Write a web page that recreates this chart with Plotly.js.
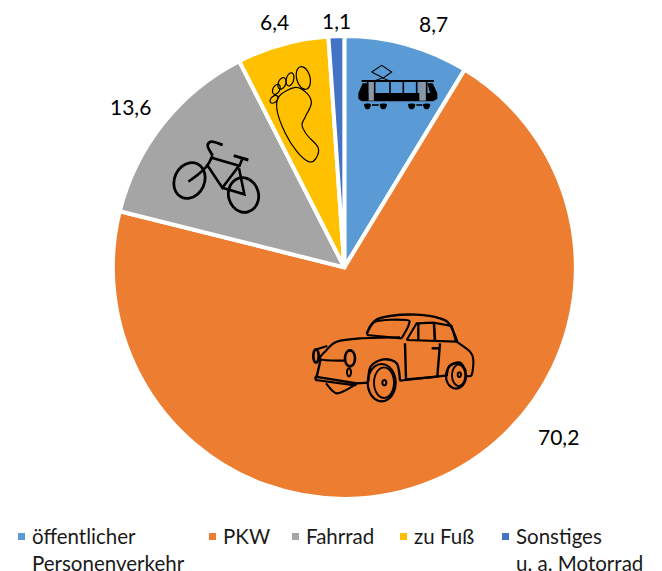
<!DOCTYPE html>
<html><head><meta charset="utf-8">
<script src="https://cdn.plot.ly/plotly-3.0.1.min.js"></script>
<style>html,body{margin:0;padding:0;background:#fff}</style></head>
<body><div id="chart" style="width:662px;height:571px"></div>
<script>
const categories = ["öffentlicher Personenverkehr","PKW","Fahrrad","zu Fuß","Sonstiges u. a. Motorrad"];
const values = [8.7,70.2,13.6,6.4,1.1];
const colors = ["#5B9BD5","#ED7D31","#A5A5A5","#FFC000","#4472C4"];
const legendLines = [["öffentlicher","Personenverkehr"],["PKW"],["Fahrrad"],["zu Fuß"],["Sonstiges","u. a. Motorrad"]];
const W=662,H=571;
const FONT='Lato, "Open Sans", sans-serif';
const labelPos=[[433,23.5],[558.5,436.5],[130.5,106],[274,22],[336,20]];
const legendX=[31,222,305,413,515];
const fmt=v=>v.toFixed(1).replace('.',',');
const X=x=>(x/W).toFixed(5), Y=y=>(1-y/H).toFixed(5);
const P=(x,y)=>X(x)+','+Y(y);
function poly(pts,closed){return 'M'+pts.map(p=>P(p[0],p[1])).join(' L')+(closed?' Z':'');}
function smooth(pts,closed){
  const n=pts.length;let d='M'+P(pts[0][0],pts[0][1]);
  const g=i=>closed?pts[(i+n)%n]:pts[Math.max(0,Math.min(n-1,i))];
  for(let i=0;i<(closed?n:n-1);i++){
    const a=g(i-1),b=g(i),c=g(i+1),e=g(i+2);
    d+=' C'+P(b[0]+(c[0]-a[0])/6,b[1]+(c[1]-a[1])/6)+' '+P(c[0]-(e[0]-b[0])/6,c[1]-(e[1]-b[1])/6)+' '+P(c[0],c[1]);
  }
  return d+(closed?' Z':'');
}
function ell(cx,cy,rx,ry,deg){
  const t=(deg||0)*Math.PI/180,pts=[];
  for(let i=0;i<12;i++){const a=i*Math.PI/6,u=rx*Math.cos(a),v=ry*Math.sin(a);
    pts.push([cx+u*Math.cos(t)-v*Math.sin(t),cy+u*Math.sin(t)+v*Math.cos(t)]);}
  return smooth(pts,true);
}
const shapes=[];
function stroke(path,w){shapes.push({type:'path',xref:'paper',yref:'paper',path,layer:'above',line:{color:'#000',width:w},fillcolor:'rgba(0,0,0,0)'});}
function fill(path,c){shapes.push({type:'path',xref:'paper',yref:'paper',path,layer:'above',line:{width:0},fillcolor:c||'#000'});}
// tram
const tx=p=>[p[0]/3+350,p[1]/3+58];
fill(poly([[25,105],[38,76],[55,76],[55,105],[240,105],[232,76],[248,76],[262,105],[262,122],[250,130],[35,130],[25,122]].map(tx),true));
fill(poly([[55,72],[72,72],[72,128],[55,128]].map(tx),true),'#8a97a5');
fill(poly([[208,72],[228,72],[228,128],[208,128]].map(tx),true),'#8a97a5');
stroke(poly([[35,69],[252,69]].map(tx)),2.2);
[[53,72,53,128],[74,72,74,128],[120,72,120,105],[160,72,160,105],[200,72,200,128],[230,72,230,128]].forEach(q=>stroke(poly([[q[0],q[1]],[q[2],q[3]]].map(tx)),1.6));
stroke(poly([[65,42],[95,22],[125,42],[100,60],[65,42]].map(tx)),1.1);
stroke(poly([[97,60],[75,68],[118,68],[97,60]].map(tx)),1);
[[43,62],[90,110],[175,195],[220,240]].forEach(q=>fill(smooth([[q[0],138],[q[1],138],[q[1]-4,152],[q[0]+4,152]].map(tx),true)));
[[66,86],[199,217]].forEach(q=>stroke(poly([[q[0],141],[q[1],141]].map(tx)),1.6));
// bicycle
const bx=p=>[p[0]/3+165,p[1]/3+135];
stroke(ell(189.5,180.5,15,18.5,25),2.8);
stroke(ell(243.5,195,15,17.5,-15),2.8);
stroke(poly([[140,68],[222,92],[172,158],[125,88]].map(bx),false),2.6);
stroke(poly([[172,158],[238,178],[222,100]].map(bx)),2.6);
stroke(poly([[232,72],[222,95]].map(bx)),2.6);
stroke(poly([[206,62],[250,75]].map(bx)),3);
stroke(smooth([[142,62],[128,90],[100,118],[70,140]].map(bx)),2.6);
stroke(smooth([[173,30],[140,20],[128,33],[143,62]].map(bx)),2.8);
// foot
const fx=p=>[p[0]/3+262,p[1]/3+60];
const f=(x,y,a,b,d)=>stroke(ell(x/3+262,y/3+60,a/3,b/3,d),1.2);
f(124,54,20,35,-15);f(84,58,11,20,15);f(60,70,11,18,22);f(43,88,10,16,28);f(36,118,9,14,45);
stroke(smooth([[52,108],[100,82],[135,100],[148,130],[130,170],[120,195],[135,225],[168,262],[162,295],[140,305],[105,275],[70,220],[45,150]].map(fx),true),1.2);
// car
const cx=p=>[p[0]/3+300,p[1]/3+300];
const cs=(a,w)=>stroke(smooth(a.map(cx)),w||2.1), cp=(a,w)=>stroke(poly(a.map(cx)),w||2.1);
const ce=(x,y,a,b,d,w)=>stroke(ell(x/3+300,y/3+300,a/3,b/3,d||0),w||2.1);
cs([[200,100],[225,62],[270,48],[350,44],[420,55],[450,75],[472,125]],2.4);
cs([[200,103],[225,65],[318,60],[326,75],[305,115]]);
cp([[200,105],[305,115]]);
cp([[320,120],[350,70],[400,68],[455,78],[468,125],[320,120]]);
cp([[355,72],[355,122]],2.4);cp([[402,70],[405,125]],2.6);
cs([[300,112],[180,115],[110,125],[80,150],[62,178],[135,182]]);
cs([[470,125],[510,155],[520,180],[515,225],[498,227]]);
cp([[315,130],[318,238],[412,230],[420,130]],2.4);
cp([[395,145],[418,145]],2.4);
cp([[298,242],[442,226]]);
cs([[205,245],[212,200],[250,178],[290,190],[300,240]],2.4);
ce(245,248,42,56,0,2.2);ce(252,248,30,46,0,1.9);ce(253,248,6,8,0,2);
cs([[440,228],[448,198],[480,188],[498,215]],2.4);
ce(468,228,30,38,0,2.2);ce(476,226,20,32,0,1.9);ce(478,224,5,7,0,2);
ce(150,175,15,24,0,2.6);ce(48,168,8,20,0,2.6);ce(147,217,6,12,0,2);
cp([[45,230],[170,250],[165,256],[48,240],[45,230]],2.2);
cp([[62,178],[50,230]],2.4);
cs([[78,250],[110,280],[160,258]]);
cp([[170,250],[205,248]]);
cp([[50,148],[82,138]]);
// labels and legend swatches
const annotations=[];
values.forEach((v,i)=>{
  annotations.push({xref:'paper',yref:'paper',x:labelPos[i][0]/W,y:1-labelPos[i][1]/H,text:fmt(v),showarrow:false,xanchor:'center',yanchor:'middle',font:{family:FONT,size:21,color:'#000'}});
  const sx=legendX[i]-13;
  shapes.push({type:'rect',xref:'paper',yref:'paper',x0:sx/W,x1:(sx+7)/W,y0:1-(540)/H,y1:1-(533)/H,line:{width:0},fillcolor:colors[i]});
  legendLines[i].forEach((t,j)=>annotations.push({xref:'paper',yref:'paper',x:legendX[i]/W,y:1-(536+j*26.5)/H,text:t,showarrow:false,xanchor:'left',yanchor:'middle',borderpad:0,font:{family:FONT,size:20.5,color:'#1a1a1a'}}));
});
const data=[{type:'pie',labels:categories,values,sort:false,direction:'clockwise',rotation:0,
  marker:{colors,line:{color:'#fff',width:4}},textinfo:'none',hoverinfo:'label+value',
  domain:{x:[112.7/W,576/W],y:[1-498.9/H,1-35.9/H]}}];
Plotly.newPlot('chart',data,{width:W,height:H,margin:{l:0,r:0,t:0,b:0},showlegend:false,separators:',.',paper_bgcolor:'#fff',shapes,annotations},{displayModeBar:false,staticPlot:true});
</script></body></html>
